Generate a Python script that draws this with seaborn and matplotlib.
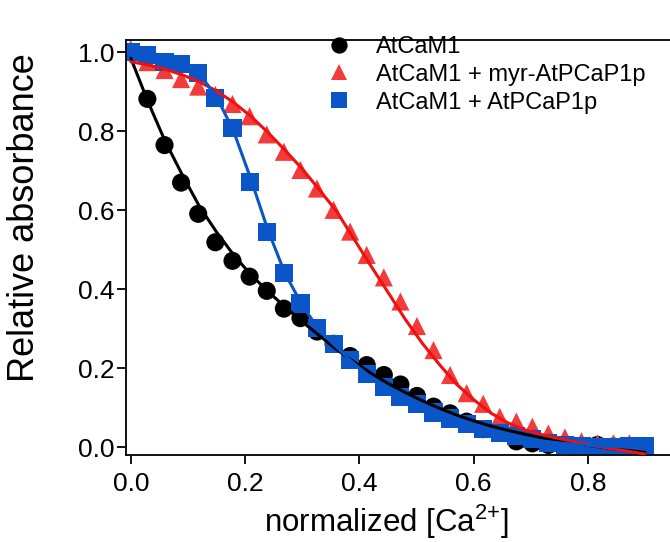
import numpy as np
import pandas as pd
import matplotlib
matplotlib.use("Agg")
import matplotlib.pyplot as plt
import seaborn as sns

# titration points (normalized [Ca2+])
ca_norm = [0.000, 0.029, 0.059, 0.088, 0.118, 0.148, 0.178, 0.208, 0.238, 0.268,
           0.297, 0.326, 0.355, 0.384, 0.413, 0.443, 0.472, 0.501, 0.530, 0.559,
           0.588, 0.617, 0.646, 0.675, 0.703, 0.731, 0.760, 0.789, 0.817, 0.845,
           0.873, 0.900]

abs_cam1 = [1.000, 0.882, 0.765, 0.670, 0.591, 0.519, 0.472, 0.432, 0.396, 0.351,
            0.327, 0.293, 0.262, 0.231, 0.208, 0.183, 0.159, 0.130, 0.103, 0.086,
            0.065, 0.046, 0.040, 0.015, 0.010, 0.006, 0.006, -0.010, 0.006, 0.002,
            -0.012, 0.002]

abs_myr = [1.008, 0.975, 0.955, 0.932, 0.913, 0.892, 0.869, 0.838, 0.792, 0.748,
           0.702, 0.655, 0.601, 0.546, 0.487, 0.430, 0.369, 0.307, 0.246, 0.183,
           0.137, 0.110, 0.077, 0.065, 0.052, 0.035, 0.025, 0.015, 0.010, 0.010,
           0.010, 0.005]

abs_pcap = [1.000, 0.993, 0.976, 0.970, 0.947, 0.884, 0.808, 0.672, 0.545, 0.442,
            0.364, 0.301, 0.262, 0.221, 0.185, 0.153, 0.128, 0.110, 0.088, 0.073,
            0.059, 0.046, 0.037, 0.029, 0.020, 0.010, 0.006, 0.002, 0.000, 0.000,
            0.003, 0.002]

# fitted curves
fit_x = [0.00, 0.03, 0.06, 0.09, 0.12, 0.15, 0.18, 0.21, 0.24, 0.27, 0.30,
         0.33, 0.36, 0.39, 0.42, 0.45, 0.48, 0.51, 0.54, 0.57, 0.60, 0.63,
         0.66, 0.69, 0.72, 0.75, 0.78, 0.81, 0.84, 0.87, 0.90]

fit_cam1 = [0.985, 0.875, 0.775, 0.690, 0.610, 0.545, 0.487, 0.437, 0.395, 0.355,
            0.318, 0.283, 0.248, 0.217, 0.188, 0.162, 0.139, 0.118, 0.099, 0.082,
            0.067, 0.054, 0.043, 0.033, 0.024, 0.016, 0.009, 0.003, -0.003, -0.008,
            -0.013]

fit_myr = [0.976, 0.968, 0.957, 0.943, 0.925, 0.902, 0.873, 0.838, 0.797, 0.752,
           0.705, 0.652, 0.598, 0.529, 0.460, 0.393, 0.325, 0.264, 0.210, 0.160,
           0.121, 0.087, 0.062, 0.044, 0.032, 0.022, 0.013, 0.004, -0.003, -0.010,
           -0.017]

fit_pcap = [1.000, 0.995, 0.988, 0.975, 0.945, 0.888, 0.800, 0.680, 0.550, 0.440,
            0.360, 0.296, 0.254, 0.213, 0.177, 0.149, 0.126, 0.103, 0.084, 0.067,
            0.053, 0.040, 0.030, 0.022, 0.016, 0.011, 0.007, 0.004, 0.002, 0.001,
            0.000]

labels = ["AtCaM1", "AtCaM1 + myr-AtPCaP1p", "AtCaM1 + AtPCaP1p"]
point_colors = ["black", "#f23c3c", "#0a55c8"]
line_colors = ["black", "#f01010", "#0a55c8"]
markers = ["o", "^", "s"]

points = pd.DataFrame({
    "ca": ca_norm * 3,
    "absorb": abs_cam1 + abs_myr + abs_pcap,
    "sample": np.repeat(labels, len(ca_norm)),
})
fits = pd.DataFrame({
    "ca": fit_x * 3,
    "absorb": fit_cam1 + fit_myr + fit_pcap,
    "sample": np.repeat(labels, len(fit_x)),
})

sns.set_style("ticks")
plt.rcParams["font.family"] = ["Liberation Sans", "DejaVu Sans"]
plt.rcParams["text.color"] = "black"
plt.rcParams["axes.labelcolor"] = "black"
plt.rcParams["xtick.color"] = "black"
plt.rcParams["ytick.color"] = "black"

fig = plt.figure(figsize=(6.7, 5.42), dpi=100)
ax = fig.add_axes([0.188, 0.1605, 0.812, 0.7657])

sns.scatterplot(data=points, x="ca", y="absorb", hue="sample", style="sample",
                hue_order=labels, style_order=labels,
                palette=dict(zip(labels, point_colors)),
                markers=dict(zip(labels, markers)),
                s=170, linewidth=0, ax=ax, zorder=2)
sns.lineplot(data=fits, x="ca", y="absorb", hue="sample", hue_order=labels,
             palette=dict(zip(labels, line_colors)), linewidth=2.2,
             legend=False, ax=ax, zorder=3)

ax.set_xlim(-0.0085, 0.944)
ax.set_ylim(-0.0195, 1.031)
ax.set_xticks([0.0, 0.2, 0.4, 0.6, 0.8])
ax.set_yticks([0.0, 0.2, 0.4, 0.6, 0.8, 1.0])
ax.xaxis.set_major_formatter(plt.FormatStrFormatter("%.1f"))
ax.yaxis.set_major_formatter(plt.FormatStrFormatter("%.1f"))
ax.tick_params(labelsize=19, length=6.5, width=1.3)
ax.tick_params(axis="x", pad=6)
ax.tick_params(axis="y", pad=2)
ax.spines["right"].set_visible(False)
for side in ["left", "bottom", "top"]:
    ax.spines[side].set_linewidth(1.4)
    ax.spines[side].set_color("#111111")

ax.set_xlabel(r"normalized [Ca$^{\mathregular{2{+}}}$]", fontsize=22.5, labelpad=0)
ax.xaxis.set_label_coords(0.478, -0.116)
ax.set_ylabel("Relative absorbance", fontsize=26)
ax.yaxis.set_label_coords(-0.155, 0.573)

handles, _ = ax.get_legend_handles_labels()
ax.legend(handles, labels, loc="upper left", bbox_to_anchor=(0.349, 1.01),
          frameon=False, fontsize=17, handletextpad=0.55, labelspacing=0.25,
          borderaxespad=0, borderpad=0, markerscale=0.9)

fig.savefig("out.png", dpi=100)
